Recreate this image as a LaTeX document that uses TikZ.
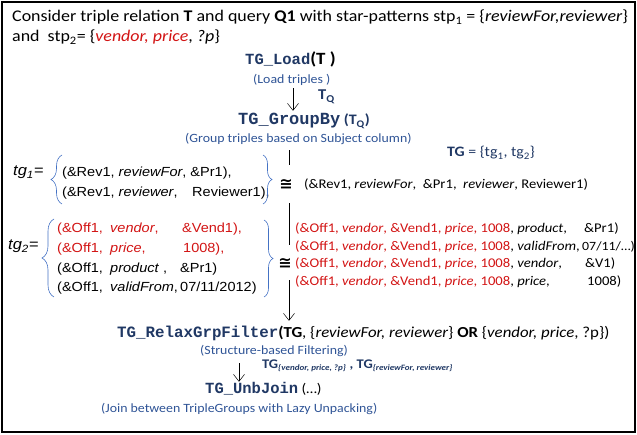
\documentclass[tikz,border=0pt]{standalone}
\usepackage{fontspec}
\setmainfont{Carlito}[FakeStretch=1.1]
\newfontfamily\arialf{Liberation Sans}[FakeStretch=1.1]
\newfontfamily\monof{Liberation Mono}
\newfontfamily\djv{DejaVu Sans}
\usetikzlibrary{arrows.meta,decorations.pathreplacing}
\definecolor{navy}{RGB}{32,56,100}
\definecolor{capblue}{RGB}{47,84,150}
\definecolor{braceblue}{RGB}{68,114,196}
\definecolor{tred}{RGB}{210,20,20}
\newcommand\fMain{\fontsize{17.2}{19}\selectfont}
\newcommand\fCap{\fontsize{12.6}{15}\selectfont}
\newcommand\fTup{\arialf\fontsize{13.2}{15}\selectfont}
\newcommand\fRt{\fontsize{13.3}{17}\selectfont}
\newcommand\fsz[1]{\fontsize{#1}{#1}\selectfont}
\newcommand\opname[2]{\textcolor{navy}{\monof\bfseries\fontsize{#1}{17}\selectfont #2}}
\begin{document}
\begin{tikzpicture}[x=1pt,y=-1pt,
  txt/.style={anchor=base west,inner sep=0pt,text height=11pt,text depth=4pt},
  maintxt/.style={txt,font=\fMain},
  captxt/.style={txt,font=\fCap,text=capblue},
  tup/.style={txt,font=\fTup},
  rtup/.style={txt,font=\fRt},
  congnode/.style={inner sep=0pt,font=\djv\bfseries\fsz{16}},
  arr/.style={-{Straight Barb[length=7pt,width=11pt]},line width=0.5pt},
  conn/.style={line width=0.5pt},
  bracel/.style={braceblue,line width=0.6pt,decorate,decoration={brace,amplitude=9pt}},
]
\useasboundingbox (0,0) rectangle (637,435);
\draw[line width=1.3pt] (2,2) rectangle (635,432);

% header
\node[txt,font=\fsz{16.3}] (h1) at (12,22) {Consider triple relation \textbf{T} and query \textbf{Q1} with star-patterns stp\textsubscript{1} = \{\textit{reviewFor,reviewer}\}};
\node[txt,font=\fsz{16.3}] (h2) at (12,42) {and\ \ stp\textsubscript{2}= \{\textcolor{tred}{\textit{vendor, price}}, \textit{?p}\}};

% load
\node[txt] (load) at (245,65) {\opname{15.5}{TG\_Load}\fMain\textbf{(T )}};
\node[captxt] (loadcap) at (253,84) {(Load triples )};
\coordinate (xa) at (293,0);
\node[txt,font=\fsz{15}\bfseries,text=navy] (tq) at (318,100) {T\textsubscript{Q}};

% groupby
\node[txt] (gb) at (238,125) {\opname{17}{TG\_GroupBy}\textcolor{navy}{\fsz{14.5}\bfseries\ (T\textsubscript{Q})}};
\draw[arr,shorten >=3pt] (loadcap.south -| xa) -- (gb.north -| xa);
\node[captxt] (gbcap) at (185,143) {(Group triples based on Subject column)};
\node[txt,font=\fsz{14.4},text=navy] (tgset) at (447,157) {\textbf{TG} = \{tg\textsubscript{1}, tg\textsubscript{2}\}};

% tg1
\node[tup,font=\arialf\itshape\fsz{15}] (tg1) at (13,176) {tg\textsubscript{1}=};
\node[tup] (t11) at (62,177) {(\&Rev1, \textit{reviewFor}, \&Pr1),};
\node[tup] (t12) at (62,197) {(\&Rev1, \textit{reviewer},};
\node[tup] (t12b) at (192,197) {Reviewer1),};
\draw[bracel,decoration={amplitude=11pt}] (62,204) -- (62,155);
\draw[bracel] (263,155) -- (263,204);
\coordinate (xl) at (289,0);
\node[congnode] (c1) at (286,184) {≅};
\node[txt,font=\fsz{13.3}] (r0) at (304,189) {(\&Rev1, \textit{reviewFor},\ \ \&Pr1,\ \ \textit{reviewer}, Reviewer1)};

% tg2
\node[tup,font=\arialf\itshape\fsz{15}] (tg2) at (8,250) {tg\textsubscript{2}=};
\node[tup,text=tred] (a1) at (57,233) {(\&Off1,};
\node[tup,text=tred] (b1) at (110,233) {\textit{vendor},};
\node[tup,text=tred] (v1) at (182,233) {\&Vend1),};
\node[tup,text=tred] (a2) at (57,253) {(\&Off1,};
\node[tup,text=tred] (b2) at (110,253) {\textit{price},};
\node[tup,text=tred] (v2) at (183,253) {1008),};
\node[tup] (a3) at (57,273) {(\&Off1,};
\node[tup] (b3) at (110,273) {\textit{product} ,};
\node[tup] (v3) at (180,273) {\&Pr1)};
\node[tup] (a4) at (57,292) {(\&Off1,};
\node[tup] (b4) at (110,292) {\textit{validFrom},};
\node[tup] (v4) at (180,292) {07/11/2012)};
\draw[bracel,decoration={amplitude=12pt}] (54,297) -- (54,219);
\draw[bracel] (264,220) -- (264,297);
\node[congnode] (c2) at (285,263) {≅};

\newcommand\redpart{\textcolor{tred}{(\&Off1, \textit{vendor}, \&Vend1, \textit{price}, 1008}}
\node[rtup] (r1) at (295,233) {\redpart, \textit{product},};
\node[rtup] (r1v) at (584,233) {\&Pr1)};
\node[rtup] (r2) at (295,250.5) {\redpart, \textit{validFrom},};
\node[rtup,font=\fsz{12.6}] (r2v) at (582,250.5) {07/11/\dots)};
\node[rtup] (r3) at (295,268) {\redpart, \textit{vendor},};
\node[rtup] (r3v) at (585,268) {\&V1)};
\node[rtup] (r4) at (295,285.5) {\redpart, \textit{price},};
\node[rtup] (r4v) at (587,285.5) {1008)};

% relax
\node[txt] (rx) at (117,338) {\opname{15.8}{TG\_RelaxGrpFilter}\fsz{15.3}\textbf{(TG}, \{\textit{reviewFor, reviewer}\} \textbf{OR} \{\textit{vendor, price}, ?p\})};
\node[captxt] (rxcap) at (200,355) {(Structure-based Filtering)};

\draw[conn,shorten <=3pt,shorten >=14pt] (gbcap.south -| xl) -- (c1.north -| xl);
\draw[conn,shorten <=14pt,shorten >=13pt] (c1.south -| xl) -- (c2.north -| xl);
\draw[arr,shorten <=12pt,shorten >=6pt] (c2.south -| xl) -- (rx.north -| xl);

% unbjoin
\node[txt,font=\fsz{13.2}\bfseries,text=navy] (tgl) at (262,369) {TG\textsubscript{\fsz{8.2}\itshape\{vendor, price, ?p\}} , TG\textsubscript{\fsz{8.2}\itshape\{reviewFor, reviewer\}}};
\node[txt] (unb) at (205,393) {\opname{15.5}{TG\_UnbJoin}\fsz{14} (\dots)};
\node[captxt] (unbcap) at (101,412) {(Join between TripleGroups with Lazy Unpacking)};
\coordinate (xb) at (239,0);
\draw[arr,shorten <=4pt] (rxcap.south -| xb) -- (unb.north -| xb);
\end{tikzpicture}
\end{document}
